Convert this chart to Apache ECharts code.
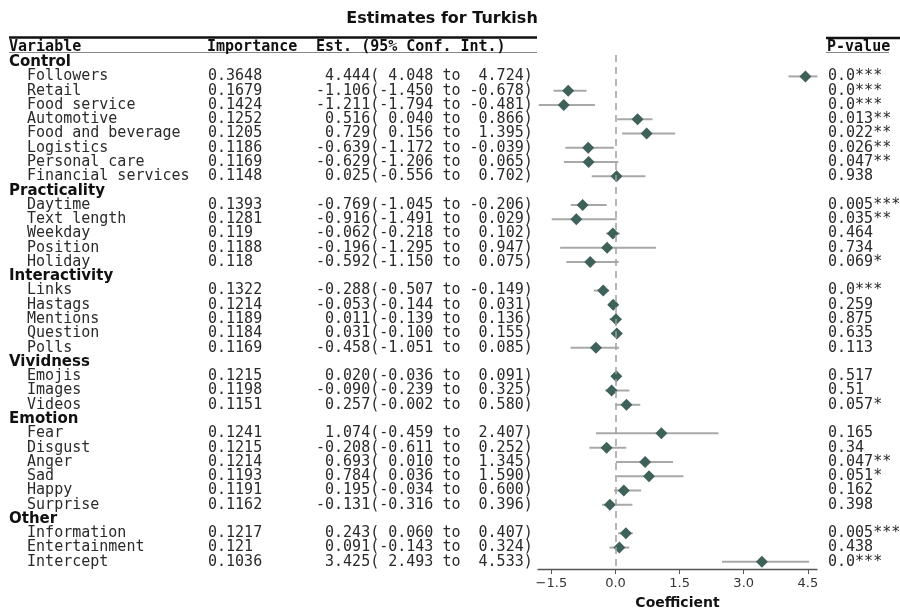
<!DOCTYPE html>
<html lang="en">
<head>
    <meta charset="utf-8"/>
    <title>Estimates for Turkish</title>
    <script type="text/javascript" src="https://cdn.jsdelivr.net/npm/echarts@6/dist/echarts.min.js"></script>
    <style>
        html, body { margin: 0; padding: 0; background: #fff; }
        #container { width: 900px; height: 610px; }
    </style>
</head>
<body>
<div id="container"></div>
<script type="text/javascript">
    // groups and how many variables each one holds (in table order)
    var groupNames = ['Control', 'Practicality', 'Interactivity', 'Vividness', 'Emotion', 'Other'];
    var groupSizes = [8, 5, 5, 3, 6, 3];

    var variables = ['Followers', 'Retail', 'Food service', 'Automotive', 'Food and beverage', 'Logistics',
        'Personal care', 'Financial services',
        'Daytime', 'Text length', 'Weekday', 'Position', 'Holiday',
        'Links', 'Hastags', 'Mentions', 'Question', 'Polls',
        'Emojis', 'Images', 'Videos',
        'Fear', 'Disgust', 'Anger', 'Sad', 'Happy', 'Surprise',
        'Information', 'Entertainment', 'Intercept'];
    var importance = [0.3648, 0.1679, 0.1424, 0.1252, 0.1205, 0.1186, 0.1169, 0.1148,
        0.1393, 0.1281, 0.119, 0.1188, 0.118,
        0.1322, 0.1214, 0.1189, 0.1184, 0.1169,
        0.1215, 0.1198, 0.1151,
        0.1241, 0.1215, 0.1214, 0.1193, 0.1191, 0.1162,
        0.1217, 0.121, 0.1036];
    var estimate = [4.444, -1.106, -1.211, 0.516, 0.729, -0.639, -0.629, 0.025,
        -0.769, -0.916, -0.062, -0.196, -0.592,
        -0.288, -0.053, 0.011, 0.031, -0.458,
        0.020, -0.090, 0.257,
        1.074, -0.208, 0.693, 0.784, 0.195, -0.131,
        0.243, 0.091, 3.425];
    var lower = [4.048, -1.450, -1.794, 0.040, 0.156, -1.172, -1.206, -0.556,
        -1.045, -1.491, -0.218, -1.295, -1.150,
        -0.507, -0.144, -0.139, -0.100, -1.051,
        -0.036, -0.239, -0.002,
        -0.459, -0.611, 0.010, 0.036, -0.034, -0.316,
        0.060, -0.143, 2.493];
    var upper = [4.724, -0.678, -0.481, 0.866, 1.395, -0.039, 0.065, 0.702,
        -0.206, 0.029, 0.102, 0.947, 0.075,
        -0.149, 0.031, 0.136, 0.155, 0.085,
        0.091, 0.325, 0.580,
        2.407, 0.252, 1.345, 1.590, 0.600, 0.396,
        0.407, 0.324, 4.533];
    var pValues = ['0.0***', '0.0***', '0.0***', '0.013**', '0.022**', '0.026**', '0.047**', '0.938',
        '0.005***', '0.035**', '0.464', '0.734', '0.069*',
        '0.0***', '0.259', '0.875', '0.635', '0.113',
        '0.517', '0.51', '0.057*',
        '0.165', '0.34', '0.047**', '0.051*', '0.162', '0.398',
        '0.005***', '0.438', '0.0***'];
    var xTicks = [-1.5, 0, 1.5, 3, 4.5];

    var MONO = '"DejaVu Sans Mono", monospace';
    var SANS = '"DejaVu Sans", sans-serif';

    function fmt(v) {
        var s = v.toFixed(3);
        return (s.length < 6 ? ' ' : '') + s;
    }

    // one table row per group heading and per variable
    var rows = [];
    var k = 0;
    for (var g = 0; g < groupNames.length; g++) {
        rows.push({ label: groupNames[g], heading: true });
        for (var j = 0; j < groupSizes[g]; j++, k++) {
            rows.push({
                label: variables[k],
                imp: String(importance[k]),
                est: fmt(estimate[k]) + '(' + fmt(lower[k]) + ' to ' + fmt(upper[k]) + ')',
                p: pValues[k],
                idx: k
            });
        }
    }
    var cats = rows.map(function (r) { return r.label; });

    var barData = [], pointData = [];
    rows.forEach(function (r, i) {
        if (r.heading) return;
        barData.push([i, lower[r.idx], upper[r.idx]]);
        pointData.push([estimate[r.idx], i]);
    });

    function tableAxis(pos, margin, fmtFn, extra) {
        var ax = {
            type: 'category',
            position: pos,
            inverse: true,
            data: cats,
            axisLine: { show: false },
            axisTick: { show: false },
            splitLine: { show: false },
            axisLabel: {
                interval: 0,
                align: 'left',
                margin: margin,
                fontFamily: MONO,
                fontSize: 15,
                color: '#2a2a2a',
                formatter: fmtFn
            }
        };
        if (extra) ax.axisLabel.rich = extra;
        return ax;
    }

    var dom = document.getElementById('container');
    var myChart = echarts.init(dom);

    var option = {
        animation: false,
        backgroundColor: '#ffffff',
        title: {
            text: 'Estimates for Turkish',
            left: 437,
            top: 6,
            textAlign: 'center',
            textStyle: { fontFamily: SANS, fontSize: 16, fontWeight: 'bold', color: '#111' }
        },
        grid: {
            left: 538,
            right: 83,
            top: 55,
            bottom: 41,
            outerBoundsMode: 'none'
        },
        xAxis: {
            type: 'value',
            min: -1.813,
            max: 4.715,
            splitLine: { show: false },
            axisLine: { show: true, lineStyle: { color: '#555', width: 1.3 } },
            axisTick: { show: true, length: 5, customValues: xTicks, lineStyle: { color: '#555' } },
            axisLabel: {
                customValues: xTicks,
                margin: 8,
                fontFamily: SANS,
                fontSize: 13,
                color: '#333',
                formatter: function (v) { return v.toFixed(1).replace('-', '\u2212'); }
            },
            name: 'Coefficient',
            nameLocation: 'middle',
            nameGap: 27,
            nameTextStyle: { fontFamily: SANS, fontSize: 14, fontWeight: 'bold', color: '#111' }
        },
        yAxis: [
            tableAxis('left', 529, function (v, i) {
                return rows[i].heading ? '{g|' + v + '}' : '  ' + v;
            }, { g: { fontFamily: SANS, fontSize: 15, fontWeight: 'bold', color: '#111' } }),
            tableAxis('left', 330, function (v, i) { return rows[i].heading ? '' : rows[i].imp; }),
            tableAxis('left', 222, function (v, i) { return rows[i].heading ? '' : rows[i].est; }),
            tableAxis('right', 11, function (v, i) { return rows[i].heading ? '' : rows[i].p; })
        ],
        graphic: [
            { type: 'line', shape: { x1: 9, y1: 37.5, x2: 537, y2: 37.5 }, style: { stroke: '#111', lineWidth: 2.5 } },
            { type: 'line', shape: { x1: 9, y1: 52.5, x2: 537, y2: 52.5 }, style: { stroke: '#888', lineWidth: 1.2 } },
            { type: 'line', shape: { x1: 826, y1: 38, x2: 900, y2: 38 }, style: { stroke: '#111', lineWidth: 2.5 } },
            { type: 'line', shape: { x1: 826, y1: 52.5, x2: 889, y2: 52.5 }, style: { stroke: '#888', lineWidth: 1.2 } },
            { type: 'text', left: 9, top: 40, style: { text: 'Variable', font: 'bold 15px ' + MONO, fill: '#111' } },
            { type: 'text', left: 207, top: 40, style: { text: 'Importance', font: 'bold 15px ' + MONO, fill: '#111' } },
            { type: 'text', left: 316, top: 40, style: { text: 'Est. (95% Conf. Int.)', font: 'bold 15px ' + MONO, fill: '#111' } },
            { type: 'text', left: 827, top: 40, style: { text: 'P-value', font: 'bold 15px ' + MONO, fill: '#111' } }
        ],
        series: [
            {
                // zero reference line
                type: 'scatter',
                data: [],
                z: 1,
                markLine: {
                    silent: true,
                    symbol: 'none',
                    label: { show: false },
                    lineStyle: { color: '#a0a0a0', width: 1.5, type: [7, 5] },
                    data: [{ xAxis: 0 }]
                }
            },
            {
                type: 'custom',
                z: 2,
                encode: { x: [1, 2], y: 0 },
                data: barData,
                renderItem: function (params, api) {
                    var a = api.coord([api.value(1), api.value(0)]);
                    var b = api.coord([api.value(2), api.value(0)]);
                    return {
                        type: 'line',
                        shape: { x1: a[0], y1: a[1], x2: b[0], y2: b[1] },
                        style: { stroke: '#a8a8a8', lineWidth: 2 }
                    };
                }
            },
            {
                type: 'scatter',
                z: 3,
                symbol: 'diamond',
                symbolSize: 12,
                itemStyle: { color: '#3e6159', opacity: 1 },
                data: pointData
            }
        ]
    };
    myChart.setOption(option, true);
</script>
</body>
</html>
